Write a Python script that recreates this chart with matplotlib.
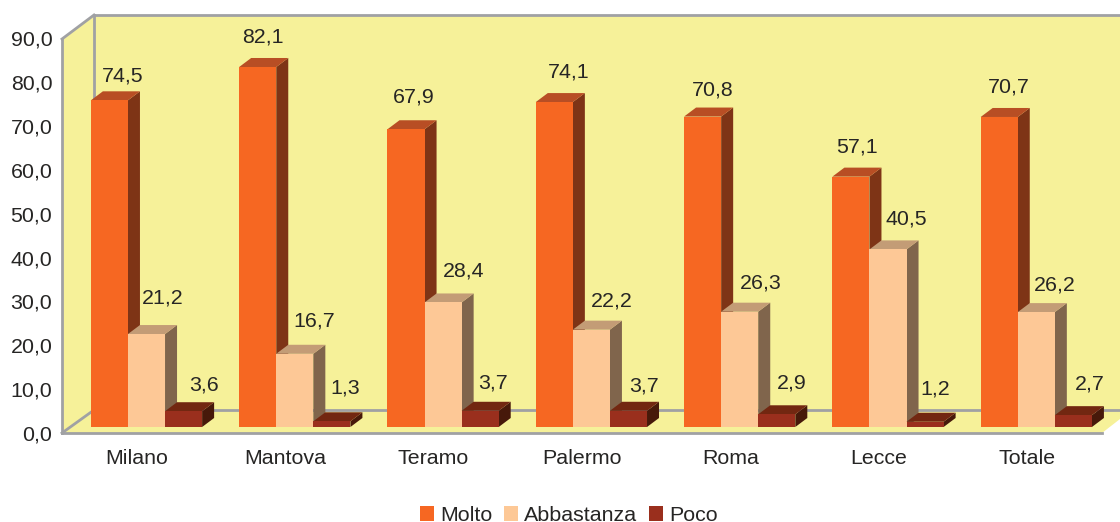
import matplotlib
matplotlib.use("Agg")
import matplotlib.pyplot as plt
from matplotlib.patches import Polygon, Patch
from matplotlib.transforms import Affine2D

plt.rcParams['font.family'] = ['Liberation Sans', 'DejaVu Sans']

categories = ["Milano", "Mantova", "Teramo", "Palermo", "Roma", "Lecce", "Totale"]
molto = [74.5, 82.1, 67.9, 74.1, 70.8, 57.1, 70.7]
abbastanza = [21.2, 16.7, 28.4, 22.2, 26.3, 40.5, 26.2]
poco = [3.6, 1.3, 3.7, 3.7, 2.9, 1.2, 2.7]
series_names = ["Molto", "Abbastanza", "Poco"]
y_ticks = [0, 10, 20, 30, 40, 50, 60, 70, 80, 90]

# styling: (front, side, top) per series
styles = [("#F66722", "#7E3416", "#B84E24"),
          ("#FDC896", "#80654C", "#C39C76"),
          ("#9A2F1D", "#47190A", "#722711")]
# label nudges in pixels (dx from bar centre, dy above rear top edge)
nudges = [
    [(13, 15), (5, 21), (8, 23), (14, 21), (10, 18), (6, 21), (10, 21)],
    [(16.5, 27), (19, 24), (20.5, 22), (20, 20), (21, 20), (18.5, 21), (19, 18)],
    [(20, 17), (13, 24), (13, 19), (16, 16), (15, 22), (10, 24), (16, 22)],
]

W, H = 1120, 522
GROUP_PX, UNIT_PX = 148.3, 4.385
X0_PX, Y0_PX = 146.5, 427
DX_PX, DY_PX = 12, 9
BAR_W = 0.25
FRONT_DROP = 6      # px from bar base to front floor line
L, R, B, T = 62, 1120, 433, 15
FS = 15.4

fig = plt.figure(figsize=(W / 100, H / 100), dpi=100)
ax = fig.add_axes([L / W, (H - B) / H, (R - L) / W, (B - T) / H])
ax.set_xlim((L - X0_PX) / GROUP_PX, (R - X0_PX) / GROUP_PX)
ax.set_ylim((Y0_PX - B) / UNIT_PX, (Y0_PX - T) / UNIT_PX)
for s in ax.spines.values():
    s.set_visible(False)
ax.patch.set_visible(False)

# frame, in pixel coordinates
px = Affine2D().scale(1, -1).translate(0, H) + Affine2D().scale(fig.dpi / 100)
WALL = "#F6F199"
GRAY = "#A0A1A4"
ax.add_patch(Polygon([(62, 433), (62, 39), (94, 15), (1120, 15), (1120, 419), (1102, 433)],
                     closed=True, fc=WALL, ec="none", transform=px, zorder=1, clip_on=False))
for xs, ys in [((62, 62), (39, 433)), ((62, 94), (39, 15)), ((94, 1120), (15, 15)),
               ((94, 94), (15, 410)), ((94, 1120), (410, 410)), ((62, 94), (433, 410)),
               ((62, 1102), (433, 433))]:
    ax.plot(xs, ys, color=GRAY, lw=2.0, transform=px, zorder=2, clip_on=False,
            solid_capstyle="projecting")

ddx, ddy = DX_PX / GROUP_PX, DY_PX / UNIT_PX
all_series = [molto, abbastanza, poco]
z = 3
for i in range(len(categories)):
    for j, vals in enumerate(all_series):
        v = vals[i]
        left = i + (j - 1.5) * BAR_W
        right = left + BAR_W
        front, side, top = styles[j]
        ax.add_patch(Polygon([(right, 0), (right + ddx, ddy), (right + ddx, v + ddy), (right, v)],
                             fc=side, ec="none", zorder=z))
        ax.add_patch(Polygon([(left, v), (left + ddx, v + ddy), (right + ddx, v + ddy), (right, v)],
                             fc=top, ec="none", zorder=z))
        ax.bar(left + BAR_W / 2, v, BAR_W, color=front, zorder=z + 0.5, linewidth=0)
        z += 1

TEXT = "#262524"
for j, vals in enumerate(all_series):
    for i, v in enumerate(vals):
        nx, ny = nudges[j][i]
        ax.annotate(f"{v:.1f}".replace(".", ","),
                    xy=(i + (j - 1) * BAR_W, v + ddy),
                    xytext=(nx * 0.72, ny * 0.72), textcoords="offset points",
                    ha="center", va="center", fontsize=FS, color=TEXT, zorder=200)

drop = FRONT_DROP / UNIT_PX
ax.set_yticks([t - drop for t in y_ticks])
ax.set_yticklabels([f"{t:.1f}".replace(".", ",") for t in y_ticks], fontsize=FS, color=TEXT)
ax.set_xticks([i - 9.5 / GROUP_PX for i in range(len(categories))])
ax.set_xticklabels(categories, fontsize=FS, color=TEXT)
ax.tick_params(axis="y", length=0, pad=7)
ax.tick_params(axis="x", length=0, pad=11.5)

handles = [Patch(fc=styles[k][0], ec="none") for k in range(3)]
fig.legend(handles, series_names, loc="center", bbox_to_anchor=(569 / W, (H - 515.5) / H),
           ncol=3, frameon=False, fontsize=FS, labelcolor=TEXT, borderpad=0, borderaxespad=0,
           handlelength=0.65, handleheight=0.65, handletextpad=0.28, columnspacing=0.55)

fig.savefig("out.png", dpi=100)
